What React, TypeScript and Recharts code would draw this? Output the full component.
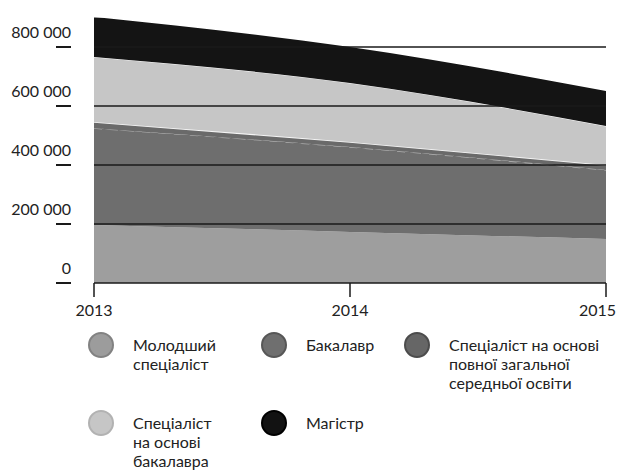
import { Area, AreaChart, ReferenceLine, XAxis, YAxis } from "recharts";

const years = ["2013", "2014", "2015"];
const molodshyi = [197000, 173000, 149000];
const bakalavr = [328000, 288000, 234000];
const specPzso = [21000, 17000, 17000];
const specBak = [220000, 200000, 132000];
const mahistr = [136000, 122000, 119000];
const yTicks = [0, 200000, 400000, 600000, 800000];
const gridValues = [200000, 400000, 600000, 800000];

const FONT = "Lato, 'Noto Sans', sans-serif";

const data = years.map((y, i) => ({
  year: y,
  molodshyi: molodshyi[i],
  bakalavr: bakalavr[i],
  specPzso: specPzso[i],
  specBak: specBak[i],
  mahistr: mahistr[i],
}));

const legendItems = [
  { label: ["Молодший", "спеціаліст"], fill: "#9c9c9c", border: "#828282", x: 101, y: 345 },
  { label: ["Бакалавр"], fill: "#6f6f6f", border: "#575757", x: 274, y: 345 },
  {
    label: ["Спеціаліст на основі", "повної загальної", "середньої освіти"],
    fill: "#666666",
    border: "#4c4c4c",
    x: 417,
    y: 345,
  },
  { label: ["Спеціаліст", "на основі", "бакалавра"], fill: "#c6c6c6", border: "#b2b2b2", x: 101, y: 423 },
  { label: ["Магістр"], fill: "#121212", border: "#000", x: 274, y: 423 },
];

const fmt = (v: number) =>
  v === 0 ? "0" : String(v).replace(/\B(?=(\d{3})+(?!\d))/g, " ");

function YTick(props: any) {
  const { y, payload } = props;
  return (
    <g>
      <line x1={56} x2={71} y1={y} y2={y} stroke="#1a1a1a" strokeWidth={2} />
      <text x={71} y={y - 9} textAnchor="end" fontSize={16} fill="#222" fontFamily={FONT}>
        {fmt(payload.value)}
      </text>
    </g>
  );
}

function XTick(props: any) {
  const { x, y, payload, index } = props;
  const last = index === years.length - 1;
  return (
    <g>
      <line x1={x} x2={x} y1={y} y2={y + 14} stroke="#1a1a1a" strokeWidth={1.5} />
      <text
        x={last ? 616 : x}
        y={y + 33}
        textAnchor={last ? "end" : "middle"}
        fontSize={16}
        fill="#222"
        fontFamily={FONT}
      >
        {payload.value}
      </text>
    </g>
  );
}

export default function App() {
  return (
    <div
      style={{
        position: "absolute",
        left: 0,
        top: 0,
        width: 619,
        height: 470,
        background: "#fff",
        fontFamily: FONT,
      }}
    >
      <AreaChart
        width={619}
        height={330}
        data={data}
        margin={{ top: 17.5, right: 13, bottom: 0, left: 0 }}
      >
        <XAxis
          dataKey="year"
          height={47}
          tickSize={0}
          tickMargin={0}
          tickLine={false}
          axisLine={{ stroke: "#1a1a1a", strokeWidth: 1.5 }}
          tick={<XTick />}
          interval={0}
        />
        <YAxis
          width={94}
          domain={[0, 900000]}
          ticks={yTicks}
          axisLine={false}
          tickLine={false}
          tick={<YTick />}
          allowDataOverflow
        />
        <Area
          type="monotone"
          dataKey="molodshyi"
          stackId="1"
          fill="#9e9e9e"
          fillOpacity={1}
          stroke="none"
          isAnimationActive={false}
        />
        <Area
          type="monotone"
          dataKey="bakalavr"
          stackId="1"
          fill="#6e6e6e"
          fillOpacity={1}
          stroke="#adadad"
          strokeWidth={1.5}
          strokeDasharray="8 8"
          isAnimationActive={false}
        />
        <Area
          type="monotone"
          dataKey="specPzso"
          stackId="1"
          fill="#6a6a6a"
          fillOpacity={1}
          stroke="#f5f5f5"
          strokeWidth={1.5}
          isAnimationActive={false}
        />
        <Area
          type="monotone"
          dataKey="specBak"
          stackId="1"
          fill="#c6c6c6"
          fillOpacity={1}
          stroke="#ffffff"
          strokeWidth={1}
          isAnimationActive={false}
        />
        <Area
          type="monotone"
          dataKey="mahistr"
          stackId="1"
          fill="#141414"
          fillOpacity={1}
          stroke="none"
          isAnimationActive={false}
        />
        {gridValues.map((v) => (
          <ReferenceLine key={v} y={v} stroke="#1a1a1a" strokeWidth={1.5} />
        ))}
      </AreaChart>
      {legendItems.map((it) => (
        <div key={it.label[0]}>
          <div
            style={{
              position: "absolute",
              left: it.x - 13,
              top: it.y - 13,
              width: 22,
              height: 22,
              borderRadius: "50%",
              background: it.fill,
              border: `2px solid ${it.border}`,
            }}
          />
          <div
            style={{
              position: "absolute",
              left: it.x + 32,
              top: it.y - 10,
              fontSize: 16,
              lineHeight: "19px",
              color: "#222",
              whiteSpace: "nowrap",
            }}
          >
            {it.label.map((l) => (
              <div key={l}>{l}</div>
            ))}
          </div>
        </div>
      ))}
    </div>
  );
}
